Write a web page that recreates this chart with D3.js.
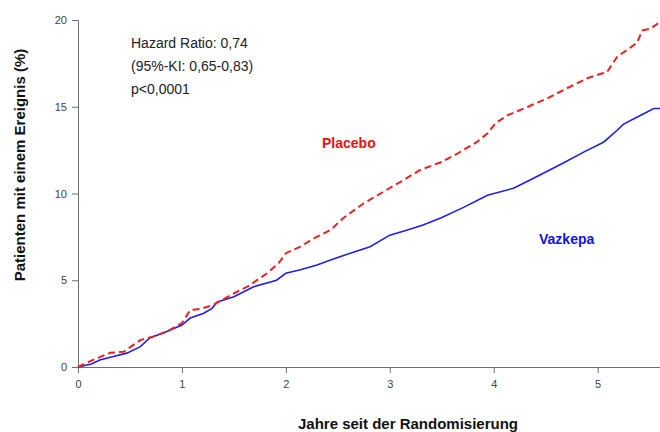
<!DOCTYPE html>
<html>
<head>
<meta charset="utf-8">
<script src="https://cdn.jsdelivr.net/npm/d3@7"></script>
<style>
  body { margin: 0; background: #fff; }
  svg { display: block; font-family: 'Liberation Sans', Arial, sans-serif; }
  .axis path, .axis line { stroke: #6e6e6e; }
  .axis text { fill: #444; font-size: 11px; }
</style>
</head>
<body>
<svg id="chart"></svg>
<script>
const xTicks = [0, 1, 2, 3, 4, 5]
const yTicks = [0, 5, 10, 15, 20]

// Jahre / Prozent
const placeboT = [0, 0.14, 0.31, 0.44, 0.60, 0.72, 0.85, 1.0, 1.08, 1.17, 1.30, 1.50, 1.63, 1.82, 1.93, 2.0,
  2.14, 2.27, 2.43, 2.55, 2.75, 2.91, 3.10, 3.29, 3.49, 3.65, 3.84, 3.94, 4.02, 4.13, 4.33, 4.52,
  4.71, 4.90, 5.03, 5.09, 5.19, 5.29, 5.38, 5.43, 5.51, 5.58, 5.6]
const placeboV = [0, 0.40, 0.82, 0.88, 1.55, 1.75, 2.03, 2.53, 3.28, 3.34, 3.57, 4.25, 4.63, 5.4, 5.98, 6.56,
  6.94, 7.42, 7.9, 8.57, 9.44, 10.0, 10.66, 11.35, 11.8, 12.3, 12.97, 13.47, 14.06, 14.5, 15.0, 15.5,
  16.08, 16.64, 16.9, 17.0, 17.9, 18.3, 18.7, 19.4, 19.5, 19.8, 19.8]

const vazkepaT = [0, 0.13, 0.21, 0.34, 0.47, 0.60, 0.69, 0.85, 1.0, 1.08, 1.21, 1.29, 1.34, 1.50, 1.69, 1.91,
  2.0, 2.14, 2.30, 2.43, 2.62, 2.81, 3.0, 3.17, 3.32, 3.49, 3.71, 3.94, 4.19, 4.35, 4.67, 4.87,
  5.06, 5.19, 5.25, 5.41, 5.54, 5.6]
const vazkepaV = [0, 0.17, 0.4, 0.6, 0.8, 1.17, 1.67, 2.03, 2.42, 2.82, 3.1, 3.38, 3.75, 4.05, 4.63, 5.0,
  5.4, 5.6, 5.88, 6.17, 6.56, 6.93, 7.6, 7.9, 8.18, 8.59, 9.2, 9.9, 10.3, 10.78, 11.76, 12.4,
  12.97, 13.66, 14.0, 14.5, 14.9, 14.9]

const stats = ['Hazard Ratio: 0,74', '(95%-KI: 0,65-0,83)', 'p<0,0001']

const width = 660
const height = 432
const margin = { top: 20, right: 0, bottom: 65, left: 78 }

const svg = d3.select('#chart')
  .attr('width', width)
  .attr('height', height)

const x = d3.scaleLinear().domain([0, 5.6]).range([margin.left, width - margin.right])
const y = d3.scaleLinear().domain([0, 20]).range([height - margin.bottom, margin.top])

// AXES
svg.append('g')
  .attr('class', 'axis')
  .attr('transform', `translate(0 ${height - margin.bottom})`)
  .call(d3.axisBottom(x).tickValues(xTicks).tickFormat(d3.format('d'))
    .tickSizeOuter(0).tickSize(6).tickPadding(7))

svg.append('g')
  .attr('class', 'axis')
  .attr('transform', `translate(${margin.left} 0)`)
  .call(d3.axisLeft(y).tickValues(yTicks).tickSizeOuter(0).tickSize(6).tickPadding(5))

// LINES
const line = d3.line()
  .x(d => x(d[0]))
  .y(d => y(d[1]))

svg.append('path')
  .datum(vazkepaT.map((t, i) => [t, vazkepaV[i]]))
  .attr('d', line)
  .attr('fill', 'none')
  .attr('stroke', '#1f1fe6')
  .attr('stroke-width', 1.6)

svg.append('path')
  .datum(placeboT.map((t, i) => [t, placeboV[i]]))
  .attr('d', line)
  .attr('fill', 'none')
  .attr('stroke', '#f02020')
  .attr('stroke-width', 2)
  .attr('stroke-dasharray', '7 4')

// LABELS
svg.append('text')
  .attr('x', 322).attr('y', 148)
  .attr('fill', '#f01010')
  .attr('font-size', 14).attr('font-weight', 'bold')
  .text('Placebo')

svg.append('text')
  .attr('x', 539).attr('y', 244)
  .attr('fill', '#1010f0')
  .attr('font-size', 14).attr('font-weight', 'bold')
  .text('Vazkepa')

svg.append('g')
  .selectAll('text')
  .data(stats)
  .enter().append('text')
  .attr('x', 131)
  .attr('y', (d, i) => 48 + i * 23)
  .attr('fill', '#222')
  .attr('font-size', 14)
  .text(d => d)

svg.append('text')
  .attr('transform', 'translate(25 165) rotate(-90)')
  .attr('text-anchor', 'middle')
  .attr('font-size', 15).attr('font-weight', 'bold')
  .attr('fill', '#111')
  .text('Patienten mit einem Ereignis (%)')

svg.append('text')
  .attr('x', 408).attr('y', 429)
  .attr('text-anchor', 'middle')
  .attr('font-size', 15).attr('font-weight', 'bold')
  .attr('fill', '#111')
  .text('Jahre seit der Randomisierung')
</script>
</body>
</html>
